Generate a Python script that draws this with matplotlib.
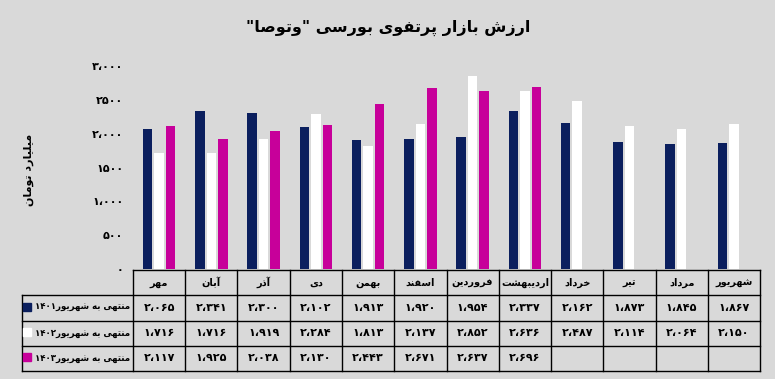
import matplotlib
matplotlib.use("Agg")
import matplotlib.pyplot as plt
import numpy as np

# ---- data ----
months = ["مهر", "آبان", "آذر", "دی", "بهمن", "اسفند", "فروردین",
          "اردیبهشت", "خرداد", "تیر", "مرداد", "شهریور"]
series_names = ["منتهی به شهریور1401", "منتهی به شهریور1402", "منتهی به شهریور1403"]
v1401 = [2065, 2341, 2300, 2102, 1913, 1920, 1954, 2337, 2162, 1873, 1845, 1867]
v1402 = [1716, 1716, 1919, 2284, 1813, 2137, 2852, 2636, 2487, 2114, 2064, 2150]
v1403 = [2117, 1925, 2038, 2130, 2443, 2671, 2637, 2696, None, None, None, None]
y_ticks = [0, 500, 1000, 1500, 2000, 2500, 3000]
y_tick_labels = ["0", "500", "1،000", "1500", "2،000", "2500", "3،000"]
title = 'ارزش بازار پرتفوی بورسی "وتوصا"'
y_label = "میلیارد تومان"

colors = ["#0b1f5e", "#ffffff", "#c7009a"]
BG = "#d9d9d9"

# ---- tiny persian shaper (matplotlib has no arabic shaping) ----
# isolated, final, initial, medial
FORMS = {
    "ا": ("\uFE8D", "\uFE8E", None, None),
    "آ": ("\uFE81", "\uFE82", None, None),
    "ب": ("\uFE8F", "\uFE90", "\uFE91", "\uFE92"),
    "پ": ("\uFB56", "\uFB57", "\uFB58", "\uFB59"),
    "ت": ("\uFE95", "\uFE96", "\uFE97", "\uFE98"),
    "خ": ("\uFEA5", "\uFEA6", "\uFEA7", "\uFEA8"),
    "د": ("\uFEA9", "\uFEAA", None, None),
    "ذ": ("\uFEAB", "\uFEAC", None, None),
    "ر": ("\uFEAD", "\uFEAE", None, None),
    "ز": ("\uFEAF", "\uFEB0", None, None),
    "س": ("\uFEB1", "\uFEB2", "\uFEB3", "\uFEB4"),
    "ش": ("\uFEB5", "\uFEB6", "\uFEB7", "\uFEB8"),
    "ص": ("\uFEB9", "\uFEBA", "\uFEBB", "\uFEBC"),
    "ف": ("\uFED1", "\uFED2", "\uFED3", "\uFED4"),
    "ل": ("\uFEDD", "\uFEDE", "\uFEDF", "\uFEE0"),
    "م": ("\uFEE1", "\uFEE2", "\uFEE3", "\uFEE4"),
    "ن": ("\uFEE5", "\uFEE6", "\uFEE7", "\uFEE8"),
    "ه": ("\uFEE9", "\uFEEA", "\uFEEB", "\uFEEC"),
    "و": ("\uFEED", "\uFEEE", None, None),
    "ی": ("\uFBFC", "\uFBFD", "\uFBFE", "\uFBFF"),
}
FA_DIGITS = str.maketrans("0123456789", "۰۱۲۳۴۵۶۷۸۹")
NUM_CHARS = set("۰۱۲۳۴۵۶۷۸۹،")


def shape(text):
    out = []
    for i, ch in enumerate(text):
        if ch not in FORMS:
            out.append(ch)
            continue
        iso, fin, ini, med = FORMS[ch]
        prev = text[i - 1] if i > 0 else None
        nxt = text[i + 1] if i + 1 < len(text) else None
        jp = prev in FORMS and FORMS[prev][2] is not None
        jn = ini is not None and nxt in FORMS
        if jp and jn:
            out.append(med)
        elif jp:
            out.append(fin)
        elif jn:
            out.append(ini)
        else:
            out.append(iso)
    return "".join(out)


def fa(text):
    s = shape(text.translate(FA_DIGITS))
    runs = []
    for ch in s:
        num = ch in NUM_CHARS
        if runs and runs[-1][1] == num:
            runs[-1][0] += ch
        else:
            runs.append([ch, num])
    return "".join(r if num else r[::-1] for r, num in reversed(runs))


def fmt(v):
    return fa(f"{v:,}".replace(",", "،"))


plt.rcParams["font.family"] = ["DejaVu Sans"]
plt.rcParams["font.weight"] = "bold"

W, H = 775, 379
fig = plt.figure(figsize=(W / 100, H / 100), dpi=100, facecolor=BG)

# ---- bars ----
ax = fig.add_axes([133 / W, (H - 269) / H, (760 - 133) / W, 203 / H])
ax.set_facecolor(BG)
x = np.arange(len(months))
offsets = [-0.22, 0.0, 0.22]
for vals, off, c in zip([v1401, v1402, v1403], offsets, colors):
    xs = [xi + off for xi, v in zip(x, vals) if v is not None]
    ys = [v for v in vals if v is not None]
    ax.bar(xs, ys, width=0.18, color=c, zorder=2)
ax.set_xlim(-0.5, len(months) - 0.5)
ax.set_ylim(0, 3000)
ax.set_xticks([])
ax.set_yticks(y_ticks)
ax.set_yticklabels([fa(t) for t in y_tick_labels], fontsize=8, fontweight="bold")
ax.tick_params(axis="y", length=0, pad=7)
for sp in ax.spines.values():
    sp.set_visible(False)

fig.text(29 / W, 1 - 170 / H, fa(y_label), rotation=90, ha="center", va="center",
         fontsize=8, fontweight="bold")
fig.text(388 / W, 1 - 28 / H, fa(title), ha="center", va="center",
         fontsize=11.5, fontweight="bold")

# ---- data table ----
lab_w = (133 - 22) / 52.25
tax = fig.add_axes([22 / W, (H - 371) / H, (760 - 22) / W, (371 - 270) / H])
tax.set_xlim(-0.5 - lab_w, len(months) - 0.5)
tax.set_ylim(4, 0)
tax.axis("off")
lw = 1.0
tax.plot([-0.5, len(months) - 0.5], [0, 0], color="black", lw=lw, clip_on=False)
for r in range(1, 5):
    tax.plot([-0.5 - lab_w, len(months) - 0.5], [r, r], color="black", lw=lw, clip_on=False)
for k in range(len(months) + 1):
    tax.plot([-0.5 + k, -0.5 + k], [0, 4], color="black", lw=lw, clip_on=False)
tax.plot([-0.5 - lab_w, -0.5 - lab_w], [1, 4], color="black", lw=lw, clip_on=False)

for i, m in enumerate(months):
    tax.text(i, 0.5, fa(m), ha="center", va="center", fontsize=7, fontweight="bold")
for r, (vals, name, c) in enumerate(zip([v1401, v1402, v1403], series_names, colors), start=1):
    for i, v in enumerate(vals):
        if v is not None:
            tax.text(i, r + 0.5, fmt(v), ha="center", va="center", fontsize=8, fontweight="bold")
    tax.text(-0.55, r + 0.5, fa(name), ha="right", va="center", fontsize=6.2, fontweight="bold")
    tax.plot([-0.5 - lab_w + 0.1], [r + 0.45], marker="s", ms=5.5, color=c, mec=c, clip_on=False)

fig.savefig("out.png", dpi=100, facecolor=BG)
